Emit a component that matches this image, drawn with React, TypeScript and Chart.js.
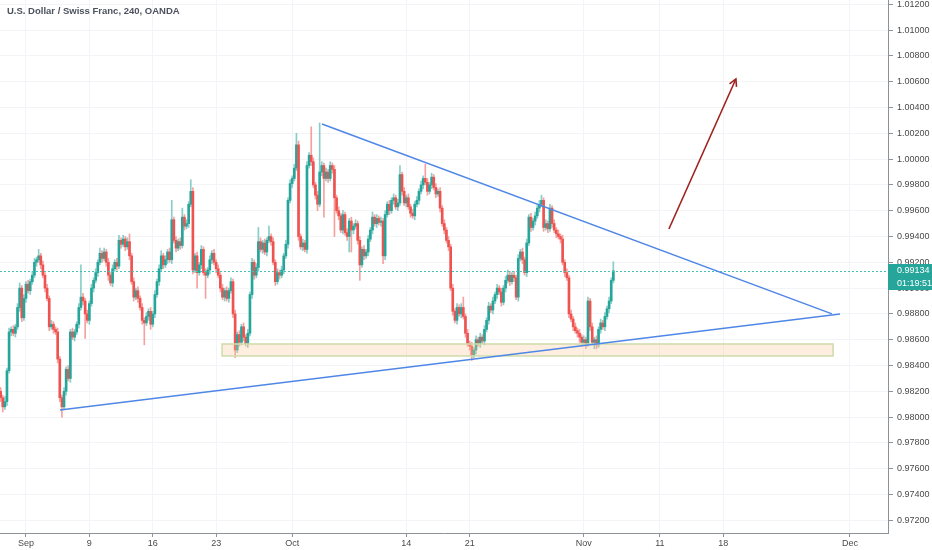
import React, { useEffect, useRef } from 'react';
import { Chart, registerables } from 'chart.js';

Chart.register(...registerables);

const titleText = 'U.S. Dollar / Swiss Franc, 240, OANDA';
const countdownText = '01:19:51';

const firstOpen = 0.982;
const closes = [
  0.9815, 0.9808, 0.9812, 0.9836, 0.9866, 0.9868, 0.9865, 0.987, 0.9885, 0.99,
  0.9877, 0.9892, 0.9903, 0.9898, 0.9905, 0.991, 0.992, 0.9922, 0.9925, 0.9918,
  0.991, 0.99, 0.9892, 0.987, 0.9872, 0.9868, 0.9866, 0.9845, 0.9815, 0.9808,
  0.982, 0.9837, 0.983, 0.9866, 0.9862, 0.9866, 0.9872, 0.9885, 0.9893, 0.989,
  0.988, 0.9875, 0.9888, 0.99, 0.9906, 0.9912, 0.992, 0.9927, 0.9923, 0.9928,
  0.992, 0.991, 0.9904, 0.9915, 0.992, 0.9917, 0.9937, 0.9934, 0.9938, 0.9932,
  0.9936, 0.9925, 0.9905, 0.9893, 0.9898, 0.9892, 0.9885, 0.9875, 0.9873, 0.9878,
  0.9882, 0.9872, 0.988, 0.9895, 0.9905, 0.9915, 0.9925, 0.9918, 0.9922, 0.9928,
  0.9922, 0.9953, 0.9937, 0.9931, 0.9936, 0.9933, 0.9955, 0.9948, 0.995, 0.9965,
  0.9975, 0.9914, 0.9925, 0.9912, 0.9918, 0.993, 0.9912, 0.991, 0.9914, 0.9922,
  0.9927, 0.992, 0.9915, 0.991, 0.99, 0.9893, 0.9898, 0.9892, 0.9898, 0.9905,
  0.988, 0.9852, 0.9864, 0.9858, 0.987, 0.9862, 0.9857, 0.9865, 0.9895, 0.992,
  0.991, 0.9916, 0.9936, 0.993, 0.9935, 0.9928, 0.9937, 0.994, 0.9936, 0.992,
  0.9905, 0.9912, 0.991, 0.9914, 0.9925, 0.9934, 0.9968, 0.9981, 0.9985, 0.9993,
  1.0011, 0.994, 0.9932, 0.9935, 0.993, 0.9995, 1.0003, 0.9998, 0.998, 0.9972,
  0.9965, 0.999, 0.9995, 0.9985, 0.999, 0.9985, 0.9995, 0.9992, 0.997, 0.996,
  0.9956, 0.9945, 0.9957, 0.9943, 0.994, 0.9952, 0.9945, 0.9948, 0.995, 0.9937,
  0.9918, 0.993, 0.9925, 0.9928, 0.9938, 0.9945, 0.9955, 0.995, 0.9954, 0.9951,
  0.9952, 0.9925, 0.9957, 0.9965, 0.996, 0.9968, 0.997, 0.9963, 0.9966, 0.9988,
  0.9975, 0.9966, 0.997, 0.9963, 0.9958, 0.9956, 0.9965, 0.9968, 0.9975, 0.998,
  0.9985, 0.9982, 0.9975, 0.998, 0.9986, 0.9978, 0.9973, 0.9975, 0.9962, 0.995,
  0.9945, 0.9937, 0.9932, 0.99, 0.9882, 0.9875, 0.9885, 0.988, 0.9885, 0.9878,
  0.9865, 0.9857, 0.9855, 0.9848, 0.9852, 0.986, 0.9857, 0.9862, 0.9859, 0.9868,
  0.9875, 0.9886, 0.9883, 0.989, 0.9895, 0.99, 0.9897, 0.9889, 0.99, 0.9906,
  0.991, 0.9905, 0.991, 0.9908, 0.9893, 0.9923, 0.9928, 0.9922, 0.9912, 0.9935,
  0.9955, 0.9947, 0.9952, 0.9956, 0.9962, 0.9965, 0.9968, 0.9947, 0.995, 0.9946,
  0.9962, 0.995, 0.9945, 0.9942, 0.994, 0.9938, 0.992, 0.9912, 0.9908, 0.988,
  0.9876, 0.987, 0.9867, 0.9865, 0.9862, 0.9858, 0.986, 0.9857, 0.989, 0.987,
  0.9858, 0.986, 0.9856, 0.9868, 0.9873, 0.987, 0.9878, 0.9884, 0.989, 0.9906,
  0.99134,
];

const upperWickPips = [
  3, 2, 4, 2, 3, 2, 3, 2, 3, 4,
  2, 3, 2, 3, 2, 3, 3, 2, 5, 2,
  3, 2, 3, 2, 3, 2, 2, 3, 2, 2,
  3, 2, 3, 2, 3, 2, 2, 3, 25, 3,
  2, 3, 2, 3, 2, 3, 2, 4, 2, 3,
  2, 3, 2, 3, 2, 3, 4, 2, 3, 2,
  3, 6, 2, 3, 2, 3, 2, 3, 2, 3,
  2, 3, 2, 3, 2, 3, 4, 2, 3, 2,
  3, 15, 2, 3, 2, 3, 7, 2, 3, 2,
  9, 3, 2, 3, 2, 3, 2, 3, 2, 3,
  2, 3, 2, 3, 2, 3, 2, 3, 2, 3,
  2, 3, 2, 3, 2, 3, 2, 3, 2, 3,
  2, 3, 11, 3, 2, 3, 2, 8, 2, 3,
  2, 3, 2, 3, 2, 3, 2, 3, 2, 3,
  9, 3, 2, 3, 2, 3, 2, 22, 3, 2,
  3, 38, 3, 2, 3, 2, 3, 2, 3, 2,
  3, 2, 3, 2, 3, 2, 3, 2, 3, 2,
  3, 2, 3, 2, 3, 2, 4, 2, 3, 2,
  3, 2, 3, 2, 3, 2, 3, 2, 3, 7,
  2, 3, 2, 3, 2, 3, 2, 3, 2, 3,
  2, 11, 3, 2, 3, 2, 3, 2, 3, 2,
  3, 2, 3, 2, 3, 2, 3, 2, 3, 8,
  2, 3, 2, 3, 2, 3, 2, 3, 2, 3,
  2, 3, 2, 3, 2, 3, 2, 3, 2, 3,
  4, 3, 2, 3, 2, 3, 2, 3, 2, 3,
  2, 3, 2, 3, 2, 3, 4, 2, 3, 2,
  3, 2, 3, 2, 3, 2, 3, 2, 3, 2,
  3, 2, 3, 2, 3, 2, 3, 2, 3, 2,
  3, 2, 3, 2, 3, 2, 3, 2, 3, 2,
  7,
];

const lowerWickPips = [
  3, 4, 2, 3, 2, 3, 2, 3, 2, 3,
  3, 2, 3, 2, 3, 2, 2, 3, 2, 3,
  2, 3, 2, 3, 2, 3, 2, 3, 3, 8,
  2, 3, 2, 3, 2, 3, 2, 3, 2, 3,
  19, 2, 3, 2, 3, 2, 3, 2, 3, 2,
  3, 4, 2, 3, 2, 3, 2, 3, 2, 3,
  2, 3, 2, 3, 2, 3, 2, 3, 17, 2,
  3, 4, 2, 3, 2, 3, 2, 3, 2, 3,
  2, 3, 2, 3, 2, 3, 2, 3, 2, 3,
  2, 3, 2, 12, 2, 3, 2, 18, 2, 3,
  3, 2, 3, 2, 3, 2, 3, 2, 3, 2,
  3, 6, 2, 3, 2, 3, 2, 3, 2, 3,
  3, 2, 3, 2, 3, 2, 3, 2, 3, 2,
  3, 2, 3, 2, 3, 2, 3, 2, 3, 2,
  2, 3, 2, 3, 2, 3, 2, 3, 2, 3,
  5, 2, 3, 30, 2, 3, 2, 3, 30, 2,
  3, 2, 3, 2, 3, 12, 17, 3, 2, 3,
  12, 2, 3, 2, 3, 2, 3, 2, 3, 2,
  3, 6, 3, 2, 3, 2, 3, 2, 3, 2,
  3, 2, 3, 2, 3, 2, 3, 2, 3, 2,
  3, 2, 3, 2, 3, 2, 3, 2, 3, 2,
  3, 2, 3, 2, 3, 2, 3, 2, 3, 2,
  3, 2, 3, 4, 2, 3, 2, 3, 2, 3,
  2, 3, 2, 3, 2, 3, 2, 3, 2, 3,
  2, 3, 2, 3, 2, 3, 2, 3, 2, 3,
  2, 3, 2, 3, 2, 3, 2, 3, 2, 3,
  2, 3, 2, 3, 2, 3, 2, 3, 2, 3,
  2, 3, 2, 3, 4, 3, 2, 4, 2, 3,
  2, 5, 3, 2, 3, 2, 3, 2, 3, 2,
  2,
];

const pip = 0.0001;

const xTickIdx = [12, 42, 72, 102, 138, 192, 222, 276, 312, 342, 402];
const xTickLabels = ['Sep', '9', '16', '23', 'Oct', '14', '21', 'Nov', '11', '18', 'Dec'];

const yTicks = [
  0.972, 0.974, 0.976, 0.978, 0.98, 0.982, 0.984, 0.986, 0.988, 0.99, 0.992,
  0.994, 0.996, 0.998, 1.0, 1.002, 1.004, 1.006, 1.008, 1.01, 1.012,
];

const xRange = [-0.3, 420];
const yRange = [0.97102, 1.01233];

// drawings (candle index, price)
const upperTrendLine = [[152.1, 1.00272], [393.5, 0.988]];
const lowerTrendLine = [[28.1, 0.98056], [397.3, 0.988]];
const supportZone = [[104.8, 0.98567], [394.0, 0.98474]];
const arrowLine = [[316.3, 0.99458], [348.0, 1.00621]];

const UP = '#26a69a';
const DOWN = '#ef5350';
const UP_WICK = 'rgba(38,166,154,0.55)';
const DOWN_WICK = 'rgba(239,83,80,0.55)';
const FONT = 'Liberation Sans';

const opens = closes.map((_, i) => (i === 0 ? firstOpen : closes[i - 1]));

const overlayPlugin = {
  id: 'overlay',
  afterDatasetsDraw(chart: any) {
    const { ctx, chartArea, scales } = chart;
    const x = scales.x;
    const y = scales.y;
    const P = (p: number[]) => [x.getPixelForValue(p[0]), y.getPixelForValue(p[1])];
    ctx.save();
    ctx.beginPath();
    ctx.rect(chartArea.left, chartArea.top, chartArea.right - chartArea.left, chartArea.bottom - chartArea.top);
    ctx.clip();

    // last price dotted line
    const last = closes[closes.length - 1];
    const py = Math.round(y.getPixelForValue(last)) + 0.5;
    ctx.strokeStyle = '#45c2b6';
    ctx.lineWidth = 1;
    ctx.setLineDash([2, 2]);
    ctx.beginPath();
    ctx.moveTo(chartArea.left, py);
    ctx.lineTo(chartArea.right, py);
    ctx.stroke();
    ctx.setLineDash([]);

    // support zone
    const [r0x, r0y] = P(supportZone[0]);
    const [r1x, r1y] = P(supportZone[1]);
    ctx.fillStyle = 'rgba(249,203,156,0.32)';
    ctx.fillRect(r0x, r0y, r1x - r0x, r1y - r0y);
    ctx.strokeStyle = '#cfdcab';
    ctx.lineWidth = 1.5;
    ctx.strokeRect(r0x, r0y, r1x - r0x, r1y - r0y);

    // trend lines
    ctx.strokeStyle = '#4f87e6';
    ctx.lineWidth = 1.5;
    for (const ln of [upperTrendLine, lowerTrendLine]) {
      const [ax, ay] = P(ln[0]);
      const [bx, by] = P(ln[1]);
      ctx.beginPath();
      ctx.moveTo(ax, ay);
      ctx.lineTo(bx, by);
      ctx.stroke();
    }

    // arrow
    const [sx, sy] = P(arrowLine[0]);
    const [tx, ty] = P(arrowLine[1]);
    ctx.strokeStyle = '#a0221f';
    ctx.lineWidth = 1.6;
    ctx.beginPath();
    ctx.moveTo(sx, sy);
    ctx.lineTo(tx, ty);
    ctx.stroke();
    const ang = Math.atan2(ty - sy, tx - sx);
    const len = 8;
    ctx.beginPath();
    ctx.moveTo(tx - len * Math.cos(ang - 0.5), ty - len * Math.sin(ang - 0.5));
    ctx.lineTo(tx, ty);
    ctx.lineTo(tx - len * Math.cos(ang + 0.5), ty - len * Math.sin(ang + 0.5));
    ctx.stroke();
    ctx.restore();
  },
  afterDraw(chart: any) {
    const { ctx, chartArea, scales, width } = chart;
    const y = scales.y;
    const last = closes[closes.length - 1];
    const py = y.getPixelForValue(last);
    ctx.save();
    const bx = chartArea.right;
    const bw = width - bx;
    const top = Math.round(py) - 7;
    ctx.fillStyle = UP;
    ctx.fillRect(bx, top, bw, 13);
    ctx.fillRect(bx, top + 13, bw, 13);
    ctx.fillStyle = '#ffffff';
    ctx.font = `9px "${FONT}"`;
    ctx.textBaseline = 'middle';
    ctx.textAlign = 'left';
    ctx.fillText(last.toFixed(5), bx + 9, top + 7);
    ctx.fillText(countdownText, bx + 9, top + 20);

    // title
    ctx.fillStyle = '#4c525e';
    ctx.font = `bold 9.5px "${FONT}"`;
    ctx.textBaseline = 'alphabetic';
    ctx.fillText(titleText, 7, 14);
    ctx.restore();
  },
};

export default function App() {
  const ref = useRef<HTMLCanvasElement>(null);
  useEffect(() => {
    const bodies = closes.map((c, i) => ({ x: i, y: [opens[i], c] }));
    const wicks = closes.map((c, i) => {
      const o = opens[i];
      return {
        x: i,
        y: [Math.min(o, c) - lowerWickPips[i] * pip, Math.max(o, c) + upperWickPips[i] * pip],
      };
    });
    const isUp = (i: number) => closes[i] >= opens[i];
    const chart = new Chart(ref.current as HTMLCanvasElement, {
      type: 'bar',
      data: {
        datasets: [
          {
            label: 'body',
            data: bodies as any,
            backgroundColor: closes.map((_, i) => (isUp(i) ? UP : DOWN)),
            barThickness: 2,
            minBarLength: 1,
            grouped: false,
            borderWidth: 0,
            order: 0,
          },
          {
            label: 'wick',
            data: wicks as any,
            backgroundColor: closes.map((_, i) => (isUp(i) ? UP_WICK : DOWN_WICK)),
            barThickness: 1,
            grouped: false,
            borderWidth: 0,
            order: 1,
          },
        ],
      },
      options: {
        responsive: false,
        animation: false,
        devicePixelRatio: 1,
        layout: { padding: 0 },
        plugins: {
          legend: { display: false },
          tooltip: { enabled: false },
          title: { display: false },
        },
        scales: {
          x: {
            type: 'linear',
            offset: false,
            min: xRange[0],
            max: xRange[1],
            afterBuildTicks: (s: any) => {
              s.ticks = xTickIdx.map((v) => ({ value: v }));
            },
            afterFit: (s: any) => {
              s.height = 17;
              s.paddingLeft = 0;
              s.paddingRight = 0;
            },
            ticks: {
              autoSkip: false,
              maxRotation: 0,
              padding: 1,
              color: '#4a4a4a',
              font: { family: FONT, size: 9 },
              callback: (_v: any, idx: number) => xTickLabels[idx],
            },
            grid: {
              offset: false,
              color: '#f3f4f8',
              tickColor: '#8e929b',
              tickLength: 4,
            },
            border: { display: true, color: '#8e929b' },
          },
          y: {
            type: 'linear',
            position: 'right',
            min: yRange[0],
            max: yRange[1],
            afterBuildTicks: (s: any) => {
              s.ticks = yTicks.map((v) => ({ value: v }));
            },
            afterFit: (s: any) => {
              s.width = 44;
              s.paddingTop = 0;
              s.paddingBottom = 0;
            },
            ticks: {
              padding: 4,
              color: '#4a4a4a',
              font: { family: FONT, size: 9 },
              callback: (v: any) => Number(v).toFixed(5),
            },
            grid: {
              color: '#f3f4f8',
              tickColor: '#8e929b',
              tickLength: 5,
            },
            border: { display: true, color: '#8e929b' },
          },
        },
      },
      plugins: [overlayPlugin],
    });
    return () => chart.destroy();
  }, []);
  return (
    <div style={{ position: 'fixed', left: 0, top: 0, width: 932, height: 550, background: '#ffffff' }}>
      <canvas ref={ref} width={932} height={550} style={{ display: 'block', width: 932, height: 550 }} />
    </div>
  );
}
